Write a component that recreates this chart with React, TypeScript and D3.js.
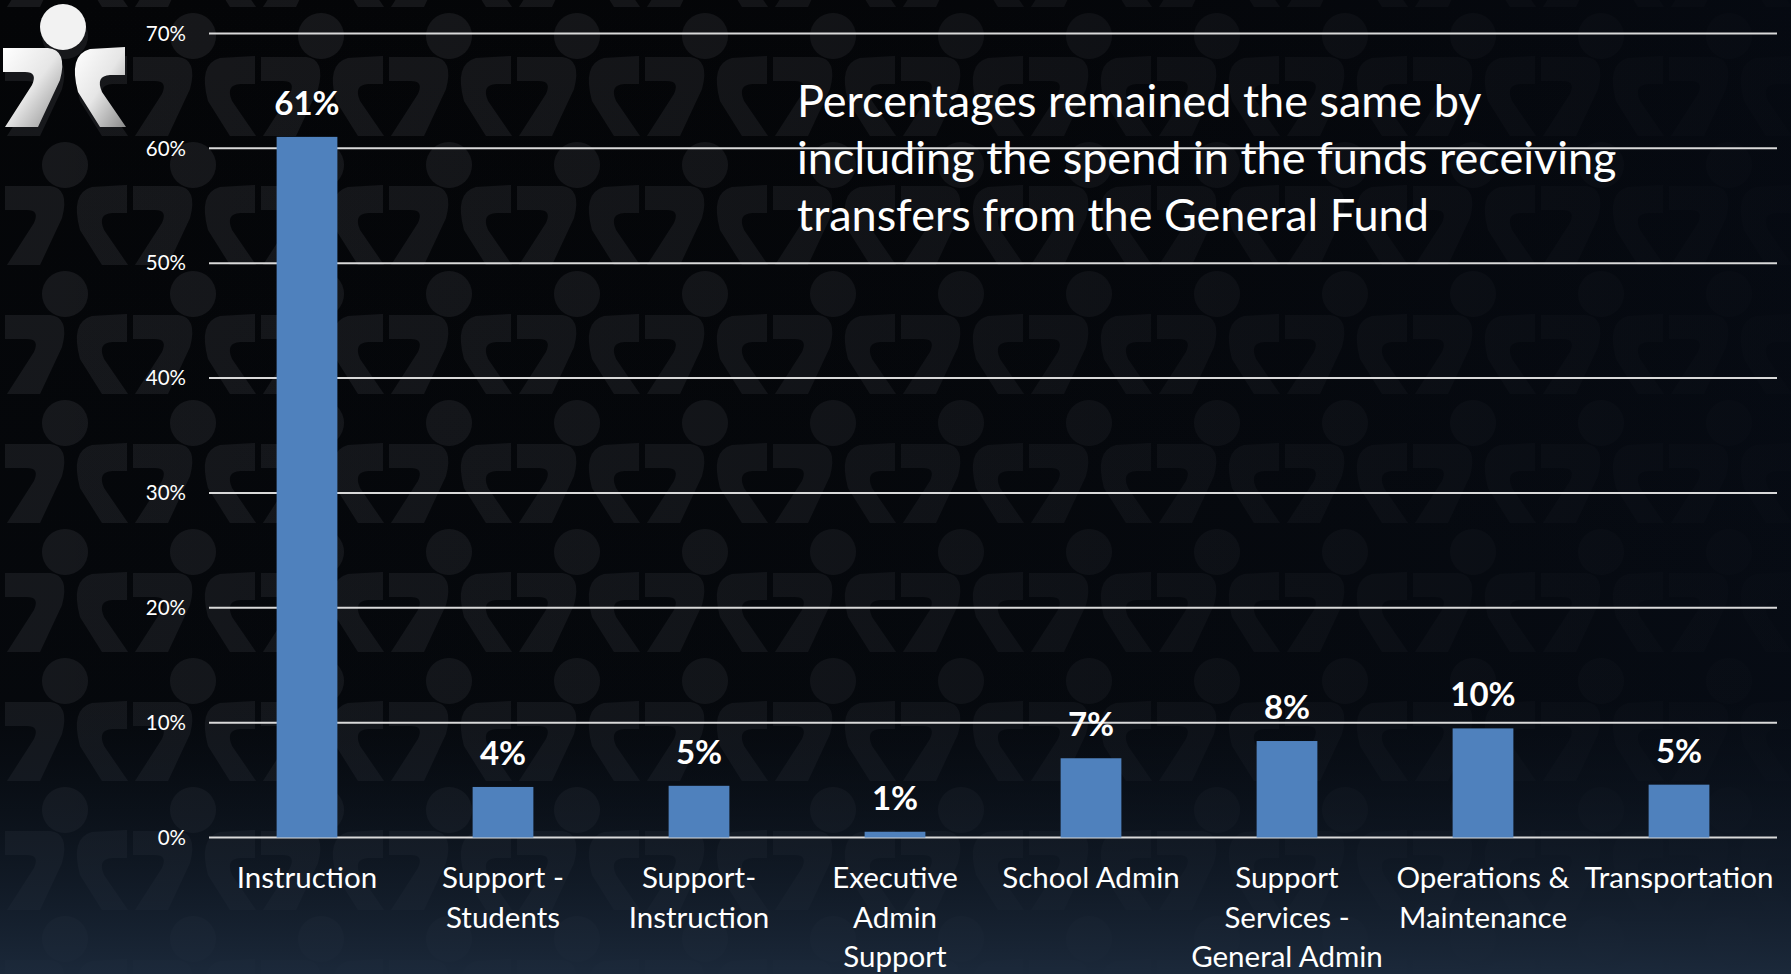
import React from "react";
import * as d3 from "d3";

const categories: string[] = [
  "Instruction",
  "Support -\nStudents",
  "Support-\nInstruction",
  "Executive\nAdmin\nSupport",
  "School Admin",
  "Support\nServices -\nGeneral Admin",
  "Operations &\nMaintenance",
  "Transportation",
];
const values: number[] = [61.0, 4.4, 4.5, 0.5, 6.9, 8.4, 9.5, 4.6];
const yTicks: number[] = [0, 10, 20, 30, 40, 50, 60, 70];
const titleLines: string[] = [
  "Percentages remained the same by",
  "including the spend in the funds receiving",
  "transfers from the General Fund",
];

const W = 1791;
const H = 974;
const FONT = "Lato, 'Open Sans', sans-serif";

const LEFT_PIECE =
  "M3,48 L48,48 Q68,50 60,80 L38,127 L5,127 L32,85 Q38,72 25,72 L3,72 Z";
const RIGHT_PIECE =
  "M90,49 L125,47 L125,75 L110,75 Q95,76 102,92 L126,127 L100,127 L78,92 Q68,55 90,49 Z";

export default function App() {
  const x = d3
    .scaleBand<string>()
    .domain(categories)
    .range([209, 1777])
    .paddingInner(0.69)
    .paddingOuter(0.345);
  const y = d3.scaleLinear().domain([0, 70]).range([837.5, 33.5]);
  const fmt = (v: number) => `${Math.round(v)}%`;

  return (
    <svg
      width={W}
      height={H}
      viewBox={`0 0 ${W} ${H}`}
      style={{ position: "fixed", left: 0, top: 0, display: "block" }}
    >
      <defs>
        <pattern
          id="logoPat"
          patternUnits="userSpaceOnUse"
          x={2}
          y={9}
          width={128}
          height={129}
        >
          <g fill="#17181b">
            <circle cx={63} cy={27} r={23} />
            <path d={LEFT_PIECE} />
            <path d={RIGHT_PIECE} />
          </g>
        </pattern>
        <linearGradient id="fadeRight" x1="0" y1="0" x2="1" y2="0">
          <stop offset="0" stopColor="#05070b" stopOpacity={0} />
          <stop offset="0.4" stopColor="#05070b" stopOpacity={0.2} />
          <stop offset="1" stopColor="#060a12" stopOpacity={0.92} />
        </linearGradient>
        <linearGradient id="fadeBottom" x1="0" y1="0" x2="0" y2="1">
          <stop offset="0" stopColor="#0b1420" stopOpacity={0} />
          <stop offset="0.72" stopColor="#0b1420" stopOpacity={0.2} />
          <stop offset="1" stopColor="#1c2a3c" stopOpacity={0.95} />
        </linearGradient>
        <linearGradient id="logoGrad" x1="0" y1="0" x2="1" y2="1">
          <stop offset="0" stopColor="#ffffff" />
          <stop offset="0.5" stopColor="#e6e6e6" />
          <stop offset="1" stopColor="#8a8a8a" />
        </linearGradient>
      </defs>

      {/* background */}
      <rect x={0} y={0} width={W} height={H} fill="#040507" />
      <rect x={0} y={0} width={W} height={H} fill="url(#logoPat)" />
      <rect x={0} y={0} width={W} height={H} fill="url(#fadeRight)" />
      <rect x={0} y={0} width={W} height={H} fill="url(#fadeBottom)" />

      {/* logo */}
      <g fill="url(#logoGrad)">
        <circle cx={63} cy={27} r={23} fill="#f2f2f2" />
        <path d={LEFT_PIECE} />
        <path d={RIGHT_PIECE} />
      </g>

      {/* gridlines */}
      {yTicks.map((t) => (
        <g key={t}>
          <line
            x1={209}
            x2={1777}
            y1={y(t)}
            y2={y(t)}
            stroke="#d9d9d9"
            strokeWidth={2}
          />
          <text
            x={186}
            y={y(t)}
            dy="0.35em"
            textAnchor="end"
            fill="#ffffff"
            fontFamily={FONT}
            fontSize={20.5}
          >
            {t}%
          </text>
        </g>
      ))}

      {/* bars */}
      {categories.map((c, i) => (
        <rect
          key={c}
          x={x(c)}
          y={y(values[i])}
          width={x.bandwidth()}
          height={y(0) - y(values[i])}
          fill="#4f81bd"
        />
      ))}

      {/* value labels */}
      {categories.map((c, i) => (
        <text
          key={c}
          x={(x(c) as number) + x.bandwidth() / 2}
          y={y(values[i]) - 22}
          textAnchor="middle"
          fill="#ffffff"
          fontFamily={FONT}
          fontWeight={700}
          fontSize={33}
        >
          {fmt(values[i])}
        </text>
      ))}

      {/* category labels */}
      {categories.map((c) => (
        <text
          key={c}
          x={(x(c) as number) + x.bandwidth() / 2}
          y={888}
          textAnchor="middle"
          fill="#ffffff"
          fontFamily={FONT}
          fontSize={29.5}
        >
          {c.split("\n").map((line, j) => (
            <tspan key={j} x={(x(c) as number) + x.bandwidth() / 2} dy={j === 0 ? 0 : 39.5}>
              {line}
            </tspan>
          ))}
        </text>
      ))}

      {/* annotation */}
      <text fill="#ffffff" fontFamily={FONT} fontSize={45}>
        {titleLines.map((line, j) => (
          <tspan key={j} x={797} y={117 + j * 57}>
            {line}
          </tspan>
        ))}
      </text>
    </svg>
  );
}
